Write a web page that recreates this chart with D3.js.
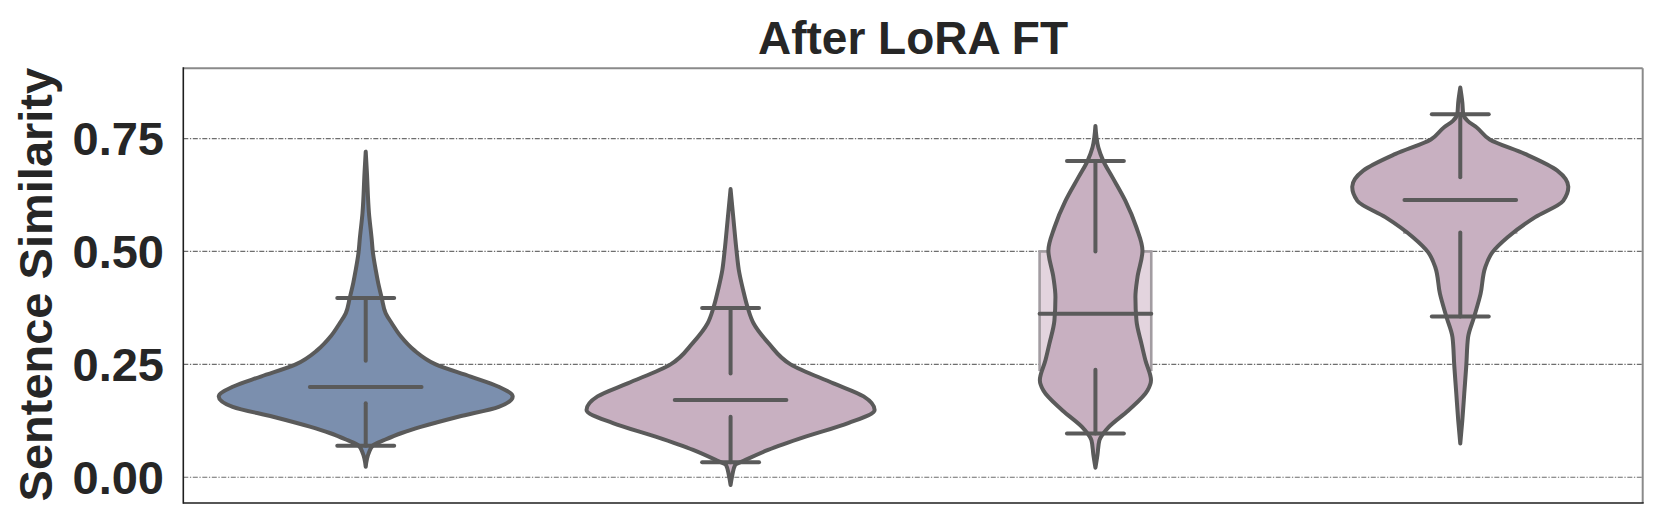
<!DOCTYPE html>
<html>
<head>
<meta charset="utf-8">
<script src="https://cdn.jsdelivr.net/npm/d3@7"></script>
<style>
  body { margin: 0; background: #fff; }
  text { font-family: "Liberation Sans", Arial, Helvetica, sans-serif; font-weight: bold; fill: #262626; }
</style>
</head>
<body>
<script>
// chart size
const width = 1662,
  height = 523;
const margin = { left: 183.3, right: 1662 - 1642.7, top: 68.3, bottom: 523 - 503 };

const titleText = "After LoRA FT";
const yLabel = "Sentence Similarity";
const categories = ["Base", "LoRA-1", "LoRA-2", "LoRA-3"];
const fills = ["#7b8fae", "#c8b0c1", "#c8b0c1", "#c8b0c1"];
const boxFills = ["#bfc8d6", "#e3d4de", "#e3d4de", "#e3d4de"];
const yTicks = [0, 0.25, 0.5, 0.75];

// kernel density estimates: [similarity, relative density]
const density1 = [
  [0.0235, 0], [0.053, 0.02], [0.071, 0.05], [0.083, 0.13], [0.098, 0.245],
  [0.112, 0.38], [0.134, 0.63], [0.156, 0.905], [0.179, 1.0], [0.201, 0.9],
  [0.223, 0.714], [0.25, 0.476], [0.282, 0.327], [0.312, 0.238], [0.341, 0.177],
  [0.363, 0.136], [0.397, 0.109], [0.43, 0.085], [0.459, 0.068], [0.5, 0.048],
  [0.526, 0.041], [0.585, 0.022], [0.675, 0.008], [0.721, 0]
];
const density2 = [
  [-0.017, 0], [0.005, 0.012], [0.027, 0.031], [0.0384, 0.102], [0.0605, 0.255],
  [0.09, 0.51], [0.12, 0.8], [0.149, 0.98], [0.179, 0.905], [0.208, 0.7],
  [0.25, 0.408], [0.297, 0.258], [0.341, 0.156], [0.376, 0.116], [0.415, 0.085],
  [0.459, 0.056], [0.5, 0.041], [0.57, 0.02], [0.638, 0]
];
const density3 = [
  [0.021, 0], [0.05, 0.014], [0.082, 0.027], [0.097, 0.054], [0.111, 0.09],
  [0.148, 0.224], [0.192, 0.354], [0.215, 0.378], [0.259, 0.34], [0.296, 0.313],
  [0.347, 0.279], [0.399, 0.272], [0.443, 0.286], [0.502, 0.32], [0.553, 0.279],
  [0.612, 0.204], [0.664, 0.116], [0.7, 0.054], [0.73, 0.02], [0.778, 0]
];
const density4 = [
  [0.0745, 0], [0.126, 0.014], [0.185, 0.027], [0.248, 0.041], [0.31, 0.053],
  [0.356, 0.095], [0.406, 0.138], [0.465, 0.17], [0.498, 0.218], [0.531, 0.32],
  [0.576, 0.51], [0.612, 0.7], [0.643, 0.735], [0.679, 0.66], [0.716, 0.44],
  [0.748, 0.2], [0.775, 0.11], [0.789, 0.05], [0.804, 0.02], [0.83, 0.014], [0.863, 0]
];
const densities = [density1, density2, density3, density4];

// summary statistics drawn inside each violin
const medians = [0.2, 0.171, 0.362, 0.614];
const q1 = [0.164, 0.134, 0.238, 0.542];
const q3 = [0.258, 0.23, 0.5, 0.664];
const lowCaps = [0.07, 0.033, 0.097, 0.356];
const highCaps = [0.397, 0.375, 0.7, 0.804];

const svg = d3
  .select("body")
  .append("svg")
  .attr("width", width)
  .attr("height", height);

const x = d3
  .scaleBand()
  .domain(categories)
  .range([margin.left, width - margin.right]);

const y = d3
  .scaleLinear()
  .domain([-0.057, 0.9055])
  .range([height - margin.bottom, margin.top]);

// half width of a violin from its relative density
const w = d3.scaleLinear().domain([0, 1]).range([0, 147]);

const boxHalf = x.bandwidth() * 0.153,
  capHalf = x.bandwidth() * 0.078;
const lineColor = "#5a5a5a",
  lineWidth = 4;

// dash-dot grid
svg
  .append("g")
  .selectAll("line")
  .data(yTicks)
  .join("line")
  .attr("x1", margin.left)
  .attr("x2", width - margin.right)
  .attr("y1", (d) => y(d))
  .attr("y2", (d) => y(d))
  .attr("stroke", "#6e6e6e")
  .attr("stroke-width", 1.2)
  .attr("stroke-dasharray", "5,1.6,1.3,1.6");

const groups = svg
  .append("g")
  .selectAll("g")
  .data(categories)
  .join("g")
  .attr("transform", (d) => `translate(${x(d) + x.bandwidth() / 2},0)`);

// boxes sit behind the violins
groups
  .append("rect")
  .attr("x", -boxHalf)
  .attr("width", boxHalf * 2)
  .attr("y", (d, i) => y(q3[i]))
  .attr("height", (d, i) => y(q1[i]) - y(q3[i]))
  .attr("fill", (d, i) => boxFills[i])
  .attr("stroke", "#a29ca1")
  .attr("stroke-width", 2.6);

const area = d3
  .area()
  .y((d) => y(d[0]))
  .x0((d) => -w(d[1]))
  .x1((d) => w(d[1]))
  .curve(d3.curveMonotoneY);

groups
  .append("path")
  .attr("d", (d, i) => area(densities[i]))
  .attr("fill", (d, i) => fills[i])
  .attr("stroke", lineColor)
  .attr("stroke-width", lineWidth)
  .attr("stroke-linejoin", "round");

// inner lines: whiskers from quartiles to caps, caps and median
const seg = (g, x1, x2, y1, y2) =>
  g
    .append("line")
    .attr("x1", x1)
    .attr("x2", x2)
    .attr("y1", y1)
    .attr("y2", y2)
    .attr("stroke", lineColor)
    .attr("stroke-width", lineWidth)
    .attr("stroke-linecap", "round");

groups.each(function (d, i) {
  const g = d3.select(this);
  seg(g, 0, 0, y(q3[i]), y(highCaps[i]));
  seg(g, 0, 0, y(q1[i]), y(lowCaps[i]));
  seg(g, -capHalf, capHalf, y(highCaps[i]), y(highCaps[i]));
  seg(g, -capHalf, capHalf, y(lowCaps[i]), y(lowCaps[i]));
  seg(g, -boxHalf, boxHalf, y(medians[i]), y(medians[i]));
});

// frame: dark left/bottom, grey top/right
const x0 = margin.left,
  x1 = width - margin.right,
  y0 = margin.top,
  y1 = height - margin.bottom;
svg.append("line").attr("x1", x0).attr("x2", x1).attr("y1", y0).attr("y2", y0)
  .attr("stroke", "#8a8a8a").attr("stroke-width", 2);
svg.append("line").attr("x1", x1).attr("x2", x1).attr("y1", y0).attr("y2", y1)
  .attr("stroke", "#8a8a8a").attr("stroke-width", 2);
svg.append("line").attr("x1", x0).attr("x2", x0).attr("y1", y0 - 1).attr("y2", y1 + 0.8)
  .attr("stroke", "#1e1e1e").attr("stroke-width", 1.6);
svg.append("line").attr("x1", x0).attr("x2", x1 + 1).attr("y1", y1).attr("y2", y1)
  .attr("stroke", "#1e1e1e").attr("stroke-width", 1.6);

// y tick labels
svg
  .append("g")
  .selectAll("text")
  .data(yTicks)
  .join("text")
  .attr("x", 164)
  .attr("y", (d) => y(d))
  .attr("dy", "0.36em")
  .attr("text-anchor", "end")
  .style("font-size", "47px")
  .text((d) => d3.format(".2f")(d));

svg
  .append("text")
  .attr("transform", `translate(52,${(y0 + y1) / 2 - 1}) rotate(-90)`)
  .attr("text-anchor", "middle")
  .style("font-size", "47px")
  .text(yLabel);

svg
  .append("text")
  .attr("x", (x0 + x1) / 2)
  .attr("y", 54)
  .attr("text-anchor", "middle")
  .style("font-size", "46px")
  .text(titleText);
</script>
</body>
</html>
